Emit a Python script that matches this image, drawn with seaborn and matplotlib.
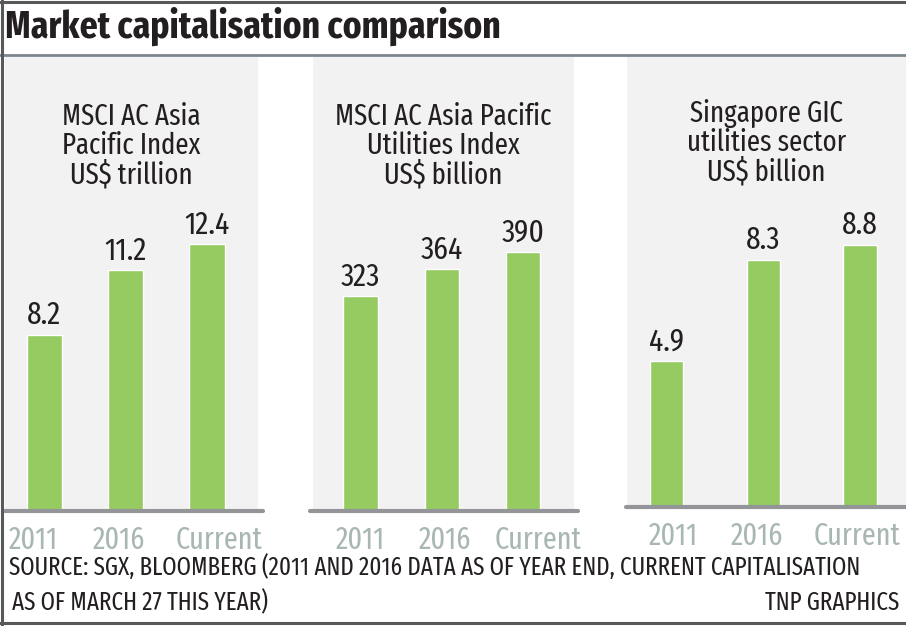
import matplotlib
matplotlib.use("Agg")
import matplotlib.pyplot as plt
from matplotlib.lines import Line2D
from matplotlib.ticker import FixedLocator, FixedFormatter
import seaborn as sns

# data
categories = ["2011", "2016", "Current"]
asia_pacific_index = [8.2, 11.2, 12.4]      # US$ trillion
asia_pacific_utilities = [323, 364, 390]   # US$ billion
gic_utilities = [4.9, 8.3, 8.8]            # US$ billion
panel_titles = ["MSCI AC Asia\nPacific Index\nUS$ trillion",
                "MSCI AC Asia Pacific\nUtilities Index\nUS$ billion",
                "Singapore GIC\nutilities sector\nUS$ billion"]
title = "Market capitalisation comparison"
source_1 = "SOURCE: SGX, BLOOMBERG (2011 AND 2016 DATA AS OF YEAR END, CURRENT CAPITALISATION"
source_2 = "AS OF MARCH 27 THIS YEAR)"
credit = "TNP GRAPHICS"

W, H = 906, 626
GREEN = "#96cb62"
PANEL_BG = "#f2f2f2"
AXIS_GREY = "#939598"
TICK_TEXT = "#a9b7b2"
INK = "#231f20"

sns.set_style("white")
plt.rcParams["font.family"] = ["Fira Sans Extra Condensed", "DejaVu Sans"]

# panel layout in pixels: (left, right, top, baseline)
layout = [
    dict(box=(5, 258, 57, 511), line=(5, 263), xlim=(-0.479, 2.626), ymax=21.1, width=0.43,
         labels_at=[-0.135, 0.92, 2.147], seps=[0.393, 1.46], title_base=125),
    dict(box=(313, 574, 57, 511), line=(310, 578), xlim=(-0.585, 2.628), ymax=683, width=0.42,
         labels_at=[0.0, 1.04, 2.18], seps=[0.51, 1.58], title_base=125),
    dict(box=(627, 906, 57, 507), line=(626, 906), xlim=(-0.408, 2.475), ymax=15.1, width=0.346,
         labels_at=[0.067, 0.935, 1.969], seps=[0.532, 1.432], title_base=122),
]
series = [asia_pacific_index, asia_pacific_utilities, gic_utilities]

fig = plt.figure(figsize=(W / 100, H / 100), dpi=100)
fig.patch.set_facecolor("white")

for vals, name, lay in zip(series, panel_titles, layout):
    l, r, t, b = lay["box"]
    ax = fig.add_axes([l / W, 1 - b / H, (r - l) / W, (b - t) / H])
    ax.set_facecolor(PANEL_BG)
    sns.barplot(x=categories, y=vals, color=GREEN, saturation=1, width=lay["width"],
                errorbar=None, ax=ax)
    ax.set_xlim(*lay["xlim"])
    ax.set_ylim(0, lay["ymax"])
    ax.bar_label(ax.containers[0], labels=[f"{v:g}" for v in vals], padding=3,
                 fontsize=23, color=INK)

    for s in ax.spines.values():
        s.set_visible(False)
    w = r - l
    ax.axhline(0, xmin=(lay["line"][0] - l) / w, xmax=(lay["line"][1] - l) / w,
               color=AXIS_GREY, lw=3, clip_on=False, zorder=4)
    ax.xaxis.set_major_locator(FixedLocator(lay["labels_at"]))
    ax.xaxis.set_major_formatter(FixedFormatter(categories))
    ax.xaxis.set_minor_locator(FixedLocator(lay["seps"]))
    ax.tick_params(axis="x", which="major", length=0, pad=10, labelsize=22, labelcolor=TICK_TEXT)
    ax.tick_params(axis="x", which="minor", length=5, width=3, color=AXIS_GREY, direction="out")
    ax.set_yticks([])
    ax.set_xlabel("")
    ax.set_ylabel("")

    cx = (l + r) / 2
    for i, line in enumerate(name.split("\n")):
        fig.text(cx / W, 1 - (lay["title_base"] + i * 29.5) / H, line, ha="center",
                 va="baseline", fontsize=21, color=INK)

fig.text(5 / W, 1 - 38 / H, title, fontsize=27.7, weight="bold", va="baseline", color=INK)
fig.add_artist(Line2D([0, 1], [1 - 55 / H] * 2, color="#7c868d", lw=2))

fig.text(9 / W, 1 - 575 / H, source_1, fontsize=18, va="baseline", color=INK)
fig.text(12 / W, 1 - 610 / H, source_2, fontsize=18, va="baseline", color=INK)
fig.text(899 / W, 1 - 610 / H, credit, fontsize=18, va="baseline", ha="right", color=INK)

# frame round the graphic (open on the right, as in the print crop)
border = dict(color="#58595b", lw=2.2)
fig.add_artist(Line2D([1.5 / W] * 2, [0, 1], **border))
fig.add_artist(Line2D([0, 1], [1 - 1.5 / H] * 2, **border))
fig.add_artist(Line2D([0, 1], [1 - 623 / H] * 2, **border))

fig.savefig("out.png", dpi=100)
